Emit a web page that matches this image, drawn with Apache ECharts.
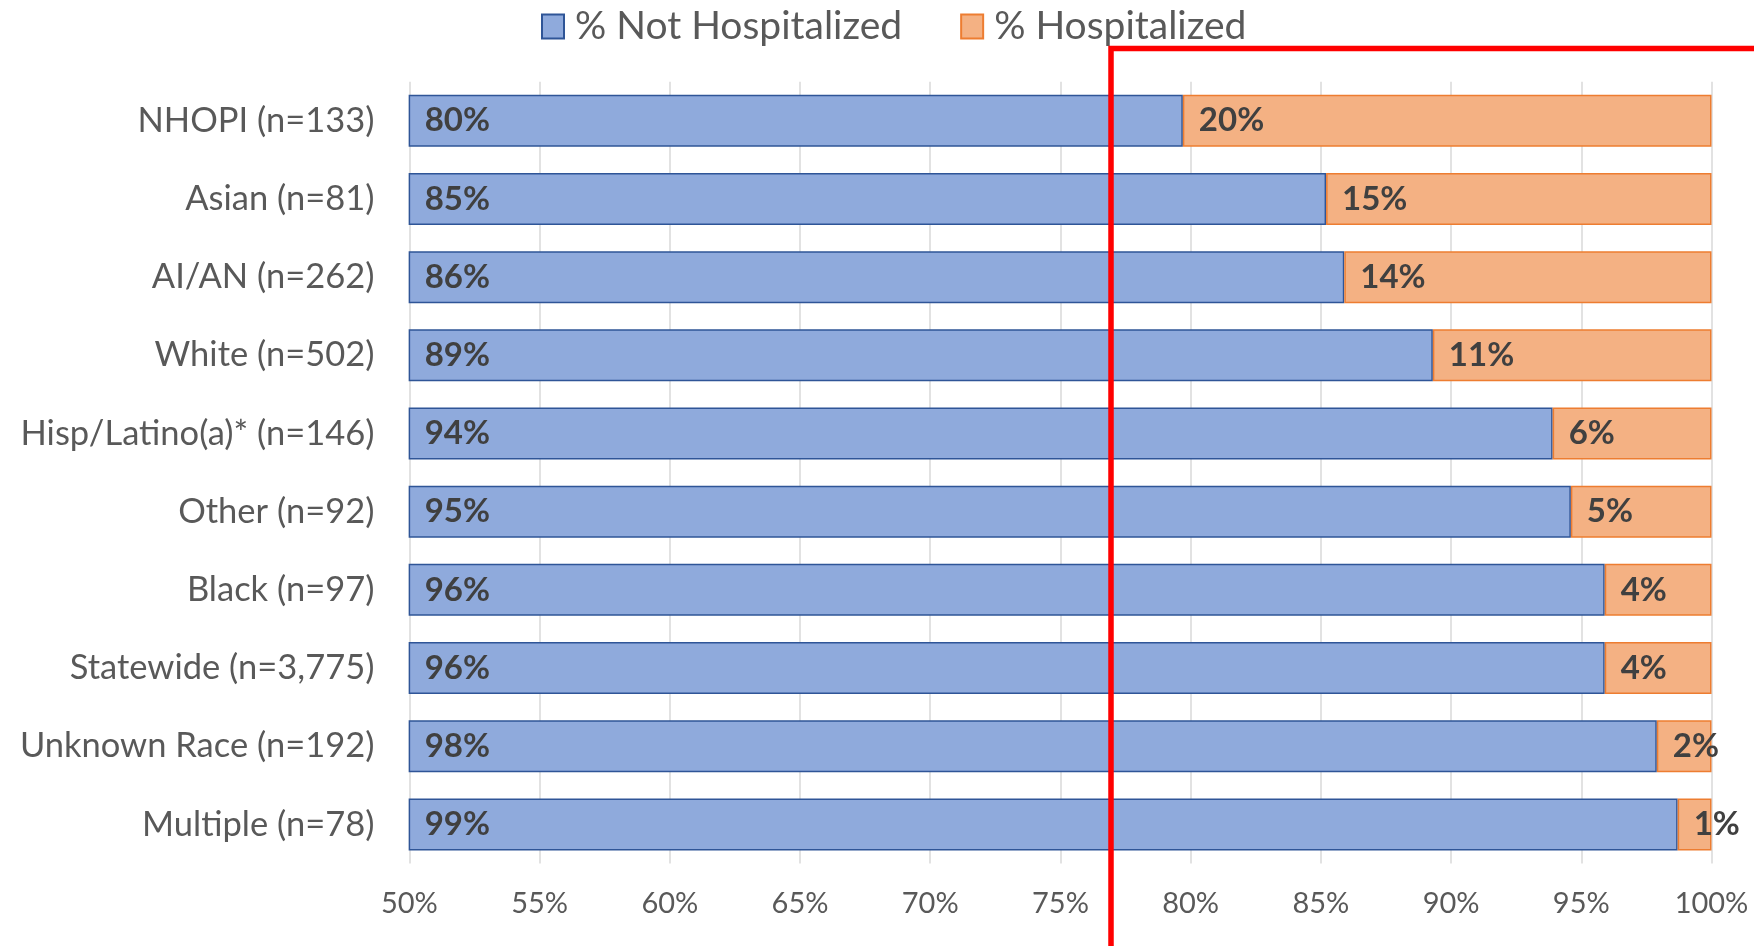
<!DOCTYPE html>
<html>
<head>
<meta charset="utf-8">
<script src="https://cdn.jsdelivr.net/npm/echarts@6/dist/echarts.min.js"></script>
<style>
html,body{margin:0;padding:0;background:#fff;}
#chart{width:1754px;height:946px;}
</style>
</head>
<body>
<div id="chart"></div>
<script>
const categories = ['NHOPI (n=133)','Asian (n=81)','AI/AN (n=262)','White (n=502)','Hisp/Latino(a)* (n=146)','Other (n=92)','Black (n=97)','Statewide (n=3,775)','Unknown Race (n=192)','Multiple (n=78)'];
const notHospitalized = [79.7, 85.2, 85.9, 89.3, 93.9, 94.6, 95.9, 95.9, 97.9, 98.7];
const hospitalized = [20.3, 14.8, 14.1, 10.7, 6.1, 5.4, 4.1, 4.1, 2.1, 1.3];
const seriesNames = ['% Not Hospitalized', '% Hospitalized'];

const FONT = 'Lato';
const chart = echarts.init(document.getElementById('chart'));
const labelCfg = {
  show: true,
  position: 'insideLeft',
  distance: 16,
  color: '#404040',
  fontFamily: FONT,
  fontWeight: 'bold',
  fontSize: 33,
  formatter: p => Math.round(p.value) + '%'
};
chart.setOption({
  backgroundColor: '#ffffff',
  animation: false,
  legend: {
    top: 2,
    left: 536,
    icon: 'rect',
    itemWidth: 22,
    itemHeight: 24,
    itemGap: 58,
    textStyle: {color: '#595959', fontFamily: FONT, fontSize: 39, padding: [0,0,0,6]},
    data: seriesNames
  },
  grid: {left: 409.4, right: 42.5, top: 81.7, bottom: 82.5},
  xAxis: {
    type: 'value',
    min: 50, max: 100, interval: 5,
    axisLine: {show: false},
    axisTick: {show: false},
    splitLine: {show: true, lineStyle: {color: '#D9D9D9', width: 1.5}},
    axisLabel: {formatter: '{value}%', color: '#595959', fontFamily: FONT, fontSize: 29, margin: 26}
  },
  yAxis: {
    type: 'category',
    inverse: true,
    data: categories,
    axisLine: {show: false},
    axisTick: {show: false},
    axisLabel: {color: '#595959', fontFamily: FONT, fontSize: 34.5, margin: 35}
  },
  series: [
    {
      name: seriesNames[0], type: 'bar', stack: 'total', barWidth: 52,
      data: notHospitalized,
      itemStyle: {color: '#8FAADC', borderColor: '#2F5597', borderWidth: 1.5},
      label: labelCfg
    },
    {
      name: seriesNames[1], type: 'bar', stack: 'total', barWidth: 52,
      data: hospitalized,
      itemStyle: {color: '#F4B183', borderColor: '#ED7D31', borderWidth: 1.5},
      label: labelCfg
    }
  ],
  graphic: [{
    type: 'rect',
    z: 100,
    shape: {x: 1111, y: 48.5, width: 800, height: 1000},
    style: {fill: 'none', stroke: '#FF0000', lineWidth: 5.5}
  }]
});
</script>
</body>
</html>
